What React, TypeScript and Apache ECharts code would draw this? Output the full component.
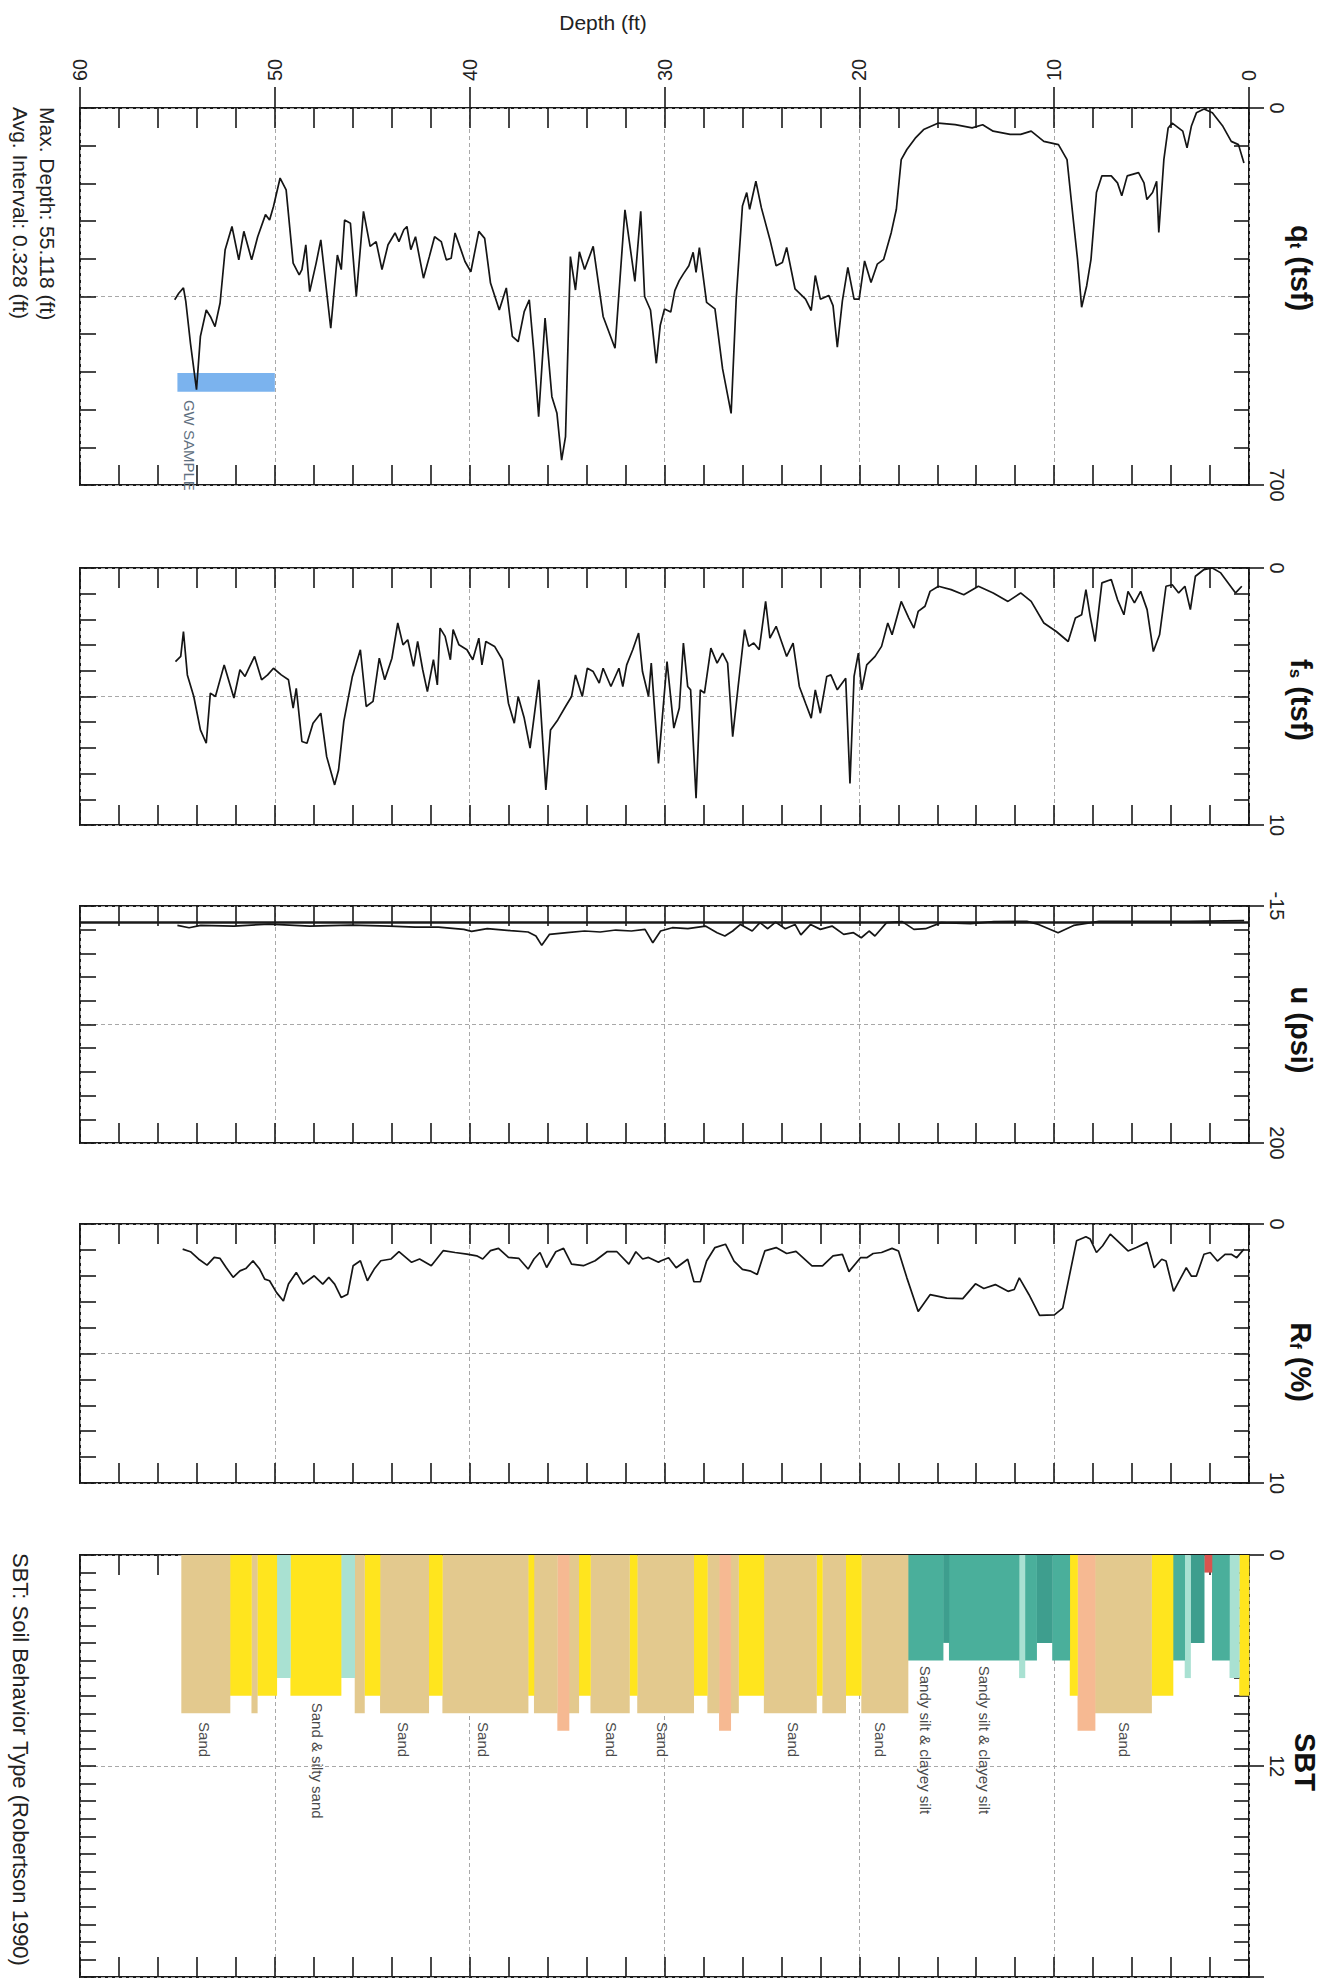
import React, { useEffect, useRef } from "react";
import * as echarts from "echarts";

const FONT = "'Liberation Sans', Arial, Helvetica, sans-serif";

// ---------- data (depth ft, value) ----------
const depthRange = [0, 60];
const depthLabelStep = 10;
const depthMinorStep = 2;

const qtData: [number, number][] = [
  [0.26,102],[0.54,68],[0.91,62],[1.34,34],[1.88,9],[2.31,2],[2.70,9],[2.96,34],[3.18,74],[3.40,43],[3.94,28],[4.15,37],[4.37,96],[4.63,231],[4.74,136],[4.95,157],[5.24,170],[5.39,139],[5.67,120],[6.25,126],[6.53,163],[6.75,139],[7.07,126],[7.55,126],[7.83,157],[8.11,281],[8.33,330],[8.59,370],[8.80,281],[9.02,207],[9.34,96],[9.78,68],[10.53,62],[11.18,43],[11.72,49],[12.26,49],[13.13,43],[13.67,31],[14.21,37],[15.08,31],[15.94,28],[16.70,40],[17.13,56],[17.56,77],[17.85,96],[18.10,188],[18.36,231],[18.75,281],[19.08,290],[19.40,324],[19.73,284],[20.01,355],[20.27,355],[20.59,296],[20.87,358],[21.13,444],[21.35,367],[21.57,348],[22.00,355],[22.26,311],[22.47,376],[22.76,355],[23.30,336],[23.73,259],[23.95,287],[24.27,293],[24.59,244],[25.03,185],[25.31,136],[25.63,188],[25.78,157],[26.00,182],[26.32,355],[26.58,567],[27.02,484],[27.41,373],[27.84,361],[28.21,259],[28.38,305],[28.53,268],[28.75,293],[29.03,308],[29.25,321],[29.47,339],[29.68,379],[30.00,373],[30.22,404],[30.42,474],[30.72,375],[31.02,350],[31.22,192],[31.52,322],[32.03,189],[32.54,446],[33.15,387],[33.66,257],[34.10,300],[34.37,267],[34.57,338],[34.83,276],[35.08,610],[35.28,654],[35.52,567],[35.78,536],[36.13,390],[36.46,573],[36.70,455],[36.94,356],[37.20,378],[37.51,434],[37.81,424],[38.12,334],[38.48,375],[38.93,325],[39.23,242],[39.53,229],[39.94,304],[40.24,285],[40.45,263],[40.75,232],[40.95,279],[41.20,282],[41.46,248],[41.80,239],[42.07,276],[42.37,316],[42.78,239],[43.02,263],[43.22,220],[43.38,226],[43.63,248],[43.83,232],[44.19,254],[44.50,300],[44.80,248],[45.11,257],[45.45,192],[45.82,350],[46.12,214],[46.42,208],[46.59,300],[46.79,273],[47.13,409],[47.64,245],[47.88,288],[48.21,341],[48.41,254],[48.61,300],[48.75,310],[49.06,288],[49.42,152],[49.73,130],[50.07,183],[50.27,208],[50.48,198],[50.88,239],[51.19,282],[51.59,229],[51.85,282],[52.20,220],[52.55,263],[52.81,362],[53.07,406],[53.31,387],[53.52,375],[53.82,424],[54.02,523],[54.33,437],[54.57,359],[54.69,334],[54.93,344],[55.14,356]
];

const fsData: [number, number][] = [
  [0.37,0.71],[0.69,0.97],[1.45,0.19],[1.88,0],[2.31,0.06],[2.75,0.32],[3.01,1.62],[3.29,0.71],[3.61,0.97],[3.94,0.65],[4.26,0.71],[4.59,2.60],[4.91,3.25],[5.23,1.62],[5.56,0.91],[5.88,1.36],[6.21,0.91],[6.42,1.82],[6.75,1.23],[7.07,0.45],[7.55,0.58],[7.90,2.86],[8.15,1.88],[8.37,0.84],[8.59,1.82],[8.91,1.95],[9.28,2.86],[9.89,2.47],[10.53,2.14],[11.18,1.30],[11.72,0.97],[12.37,1.30],[13.13,0.97],[13.89,0.71],[14.64,1.04],[15.29,0.84],[15.94,0.71],[16.37,0.91],[16.63,1.49],[16.98,1.69],[17.20,2.34],[17.46,1.95],[17.85,1.30],[18.32,2.60],[18.54,2.14],[18.86,3.05],[19.19,3.44],[19.62,3.77],[19.88,4.74],[20.05,3.31],[20.27,4.22],[20.48,8.38],[20.70,4.29],[21.13,4.74],[21.46,4.16],[21.67,4.22],[22.00,5.65],[22.26,4.74],[22.47,5.84],[22.76,5.26],[23.08,4.61],[23.40,2.92],[23.73,3.44],[24.27,2.27],[24.59,2.73],[24.81,1.30],[25.14,3.18],[25.42,2.92],[25.68,3.05],[25.89,2.40],[26.22,4.61],[26.50,6.56],[26.76,3.70],[27.02,3.31],[27.30,3.70],[27.62,3.12],[27.95,4.87],[28.16,4.74],[28.38,8.96],[28.66,4.74],[28.81,4.61],[29.03,2.92],[29.24,5.45],[29.52,6.23],[29.87,3.64],[30.31,7.60],[30.68,3.70],[30.82,5.00],[31.13,4.03],[31.33,2.53],[31.63,3.18],[31.94,3.77],[32.14,4.61],[32.34,3.90],[32.75,4.61],[33.15,3.90],[33.35,4.48],[33.66,4.03],[33.96,3.90],[34.22,5.00],[34.57,4.16],[34.77,5.00],[35.08,5.39],[35.48,5.91],[35.85,6.30],[36.09,8.64],[36.45,4.35],[36.90,7.01],[37.20,5.84],[37.51,5.00],[37.71,6.04],[38.01,5.26],[38.32,3.57],[38.72,3.05],[39.17,2.86],[39.37,3.77],[39.53,2.73],[39.84,3.57],[40.14,3.18],[40.55,2.99],[40.85,2.40],[40.99,3.57],[41.26,2.66],[41.52,2.34],[41.66,4.55],[41.86,3.57],[42.17,4.81],[42.41,3.96],[42.67,2.86],[42.88,3.83],[43.18,2.79],[43.42,2.99],[43.69,2.14],[43.99,3.51],[44.36,4.35],[44.64,3.51],[44.96,5.19],[45.31,5.39],[45.61,3.18],[46.02,4.22],[46.46,5.97],[46.73,7.86],[46.93,8.44],[47.34,7.34],[47.64,5.65],[48.04,6.04],[48.35,6.82],[48.61,6.75],[48.90,4.68],[49.06,5.45],[49.30,4.35],[49.67,4.16],[50.07,3.90],[50.37,4.16],[50.68,4.35],[51.04,3.44],[51.33,3.90],[51.53,4.22],[51.79,3.96],[52.10,5.06],[52.60,3.77],[53.05,5.00],[53.31,4.87],[53.52,6.82],[53.82,6.30],[54.16,5.00],[54.49,4.16],[54.69,2.47],[54.83,3.44],[55.10,3.64]
];

const uData: [number, number][] = [
  [0.25,-1.7],[3.1,-1.1],[5.2,-1.1],[7.7,-1.1],[9.0,2.6],[9.8,9.2],[10.8,1.7],[11.4,-1.1],[13.1,-0.8],[14.3,1.1],[15.8,0.1],[16.6,5.6],[17.2,6.2],[17.8,-0.8],[18.6,0.1],[19.2,12.2],[19.5,7.7],[19.9,13.8],[20.3,9.2],[20.8,10.7],[21.4,3.2],[22.0,6.2],[22.5,1.7],[23.0,11.2],[23.3,1.7],[23.8,5.6],[24.3,-0.4],[24.7,5.6],[25.1,0.1],[25.5,7.7],[26.1,1.7],[26.5,7.7],[26.9,12.2],[27.3,9.2],[27.9,3.2],[28.8,5.6],[29.6,4.7],[30.2,7.7],[30.6,18.3],[31.0,6.2],[31.7,7.7],[32.5,6.8],[33.3,8.6],[34.1,7.7],[35.0,9.2],[35.9,10.7],[36.3,20.7],[36.6,12.2],[37.0,8.6],[37.9,7.4],[39.1,5.6],[39.9,8.0],[40.3,6.2],[41.6,4.1],[42.8,4.1],[44.1,3.2],[46.1,2.3],[48.2,3.2],[50.3,1.4],[52.1,3.2],[53.8,2.6],[54.4,4.7],[55.0,2.6]
];

const rfData: [number, number][] = [
  [0.26,0.97],[0.63,1.30],[0.91,1.17],[1.23,1.17],[1.62,1.43],[1.99,1.10],[2.31,1.17],[2.70,2.01],[2.96,2.01],[3.22,1.69],[3.50,2.08],[3.87,2.60],[4.26,1.43],[4.48,1.36],[4.87,1.69],[5.23,0.71],[5.78,0.91],[6.21,1.04],[6.75,0.65],[7.12,0.39],[7.51,0.84],[7.83,1.10],[8.15,0.58],[8.37,0.49],[8.85,0.65],[9.24,2.08],[9.56,3.25],[9.99,3.51],[10.75,3.53],[11.29,2.73],[11.79,2.08],[12.05,2.53],[12.37,2.60],[13.02,2.34],[13.61,2.49],[14.04,2.31],[14.69,2.88],[15.51,2.86],[16.37,2.73],[16.98,3.38],[17.56,2.08],[17.99,1.04],[18.32,0.94],[18.86,1.10],[19.29,1.14],[19.62,1.30],[19.94,1.30],[20.53,1.84],[20.87,1.17],[21.35,1.23],[21.89,1.62],[22.43,1.62],[23.25,1.06],[23.73,1.14],[24.27,0.91],[24.85,1.04],[25.24,1.95],[25.57,1.82],[26.00,1.75],[26.43,1.43],[26.87,0.78],[27.41,0.91],[27.84,1.43],[28.16,2.23],[28.49,2.23],[28.81,1.36],[29.40,1.69],[29.79,1.30],[30.20,1.43],[30.31,1.48],[30.82,1.29],[31.12,1.35],[31.47,1.07],[31.83,1.55],[32.44,1.07],[32.95,1.07],[33.56,1.42],[34.16,1.61],[34.77,1.55],[35.18,0.94],[35.58,1.07],[36.05,1.68],[36.39,1.10],[36.70,1.35],[37.00,1.74],[37.47,1.33],[38.01,1.29],[38.52,0.94],[38.93,1.03],[39.33,1.35],[39.64,1.23],[40.14,1.16],[40.75,1.10],[41.36,1.03],[41.97,1.61],[42.57,1.35],[42.98,1.48],[43.63,1.07],[44.03,1.35],[44.56,1.42],[44.90,1.74],[45.25,2.19],[45.61,1.42],[45.98,1.61],[46.26,2.71],[46.59,2.84],[46.93,2.32],[47.23,2.06],[47.54,2.32],[47.98,2.00],[48.55,2.32],[48.90,1.87],[49.30,2.32],[49.56,2.97],[49.91,2.65],[50.27,2.19],[50.52,2.13],[50.78,1.74],[51.12,1.42],[51.49,1.72],[51.79,1.81],[52.14,2.06],[52.50,1.68],[52.81,1.33],[53.11,1.29],[53.48,1.59],[53.92,1.35],[54.33,1.07],[54.73,0.97]
];

// SBT zones: [fromDepth, toDepth, zone]
const sbtSegments: [number, number, number][] = [
  [0.0,0.5,8],[0.5,1.0,7],[1.0,1.9,6],[1.9,2.3,1],[2.3,3.0,5],[3.0,3.3,7],[3.3,3.9,6],[3.9,5.0,8],[5.0,7.9,9],[7.9,8.8,10],[8.8,9.2,8],[9.2,10.1,6],[10.1,10.9,5],[10.9,11.5,6],[11.5,11.8,7],[11.8,15.4,6],[15.4,15.7,5],[15.7,17.5,6],[17.5,19.9,9],[19.9,20.7,8],[20.7,21.9,9],[21.9,22.2,8],[22.2,24.9,9],[24.9,26.2,8],[26.2,26.6,9],[26.6,27.2,10],[27.2,27.8,9],[27.8,28.5,8],[28.5,31.4,9],[31.4,31.8,8],[31.8,33.8,9],[33.8,34.4,8],[34.4,34.9,9],[34.9,35.5,10],[35.5,36.7,9],[36.7,37.0,8],[37.0,41.4,9],[41.4,42.1,8],[42.1,44.6,9],[44.6,45.4,8],[45.4,45.9,9],[45.9,46.6,7],[46.6,49.2,8],[49.2,49.9,7],[49.9,50.9,8],[50.9,51.2,9],[51.2,52.3,8],[52.3,54.8,9]
];
const zoneColors: Record<number, string> = {
  1: "#D9534F", 5: "#3E9E8E", 6: "#4AAF9B", 7: "#A9E1D2", 8: "#FFE51E", 9: "#E3C98E", 10: "#F6B992",
};
const sbtLabelDepths = [53.6, 47.8, 43.4, 39.3, 32.7, 30.1, 23.4, 18.9, 16.6, 13.6, 6.4];
const sbtLabelTexts = ["Sand", "Sand & silty sand", "Sand", "Sand", "Sand", "Sand", "Sand", "Sand", "Sandy silt & clayey silt", "Sandy silt & clayey silt", "Sand"];
const sbtLabelStart = [9.5, 8.4, 9.5, 9.5, 9.5, 9.5, 9.5, 9.5, 6.3, 6.3, 9.5];

const gwSample = { from: 55.0, to: 50.0, low: 492, high: 527, label: "GW SAMPLE", labelDepth: 54.4, labelAt: 542 };

// panel axis ranges & ticks
const panelNames = ["qt", "fs", "u", "rf", "sbt"];
const panelMin = [0, 0, -15, 0, 0];
const panelMax = [700, 10, 200, 10, 24];
const panelTickStep = [70, 1, 21.5, 1, 1];
const panelLabelStep = [700, 10, 215, 10, 12];
const panelHiddenLabels = [[], [], [], [], ["24"]];

// layout (px)
const GRID_LEFT = 80;
const GRID_WIDTH = 1169;
const panelTop = [108, 568, 906, 1224, 1555];
const panelHeight = [377, 257, 237, 259, 422];
const titleY = [268, 700, 1030, 1362, 1762];

const App: React.FC = () => {
  const ref = useRef<HTMLDivElement>(null);
  useEffect(() => {
    if (!ref.current) return;
    const chart = echarts.init(ref.current, undefined, { renderer: "svg" });

    const grids: any[] = [];
    const xAxes: any[] = [];
    const yAxes: any[] = [];
    const tickStyle = { color: "#1a1a1a", width: 1.6 };
    const dashed = { color: "#a8a8a8", width: 1, type: [4, 3] };
    const axisText = { fontSize: 20, color: "#222", fontFamily: FONT };

    panelNames.forEach((_, i) => {
      grids.push({
        left: GRID_LEFT, top: panelTop[i], width: GRID_WIDTH, height: panelHeight[i],
        show: true, borderColor: "#1a1a1a", borderWidth: 2, backgroundColor: "transparent",
      });
      const xb = {
        type: "value", gridIndex: i, min: depthRange[0], max: depthRange[1], inverse: true,
        axisLine: { show: false, onZero: false }, axisLabel: { show: false }, splitLine: { show: false },
      };
      xAxes.push({ ...xb, position: "bottom", interval: depthMinorStep, axisTick: { show: true, inside: true, length: 20, lineStyle: tickStyle } });
      xAxes.push({ ...xb, position: "top", interval: depthMinorStep, axisTick: { show: true, inside: true, length: 20, lineStyle: tickStyle } });
      xAxes.push({
        ...xb, position: "top", interval: depthLabelStep,
        axisTick: i === 0 ? { show: true, inside: false, length: 21, lineStyle: tickStyle } : { show: false },
        axisLabel: i === 0 ? { show: true, rotate: -90, margin: 27, ...axisText } : { show: false },
        splitLine: { show: true, lineStyle: dashed },
      });

      const range = panelMax[i] - panelMin[i];
      const yb = {
        type: "value", gridIndex: i, min: 0, max: range, inverse: true,
        axisLine: { show: false, onZero: false }, splitLine: { show: false },
      };
      yAxes.push({ type: "value", gridIndex: i, min: panelMin[i], max: panelMax[i], inverse: true, show: false });
      yAxes.push({ ...yb, position: "left", interval: panelTickStep[i], axisTick: { show: true, inside: true, length: 16, lineStyle: tickStyle }, axisLabel: { show: false } });
      yAxes.push({ ...yb, position: "right", interval: panelTickStep[i], axisTick: { show: true, inside: true, length: 15, lineStyle: tickStyle }, axisLabel: { show: false } });
      yAxes.push({
        ...yb, position: "right", interval: panelLabelStep[i],
        axisTick: { show: true, inside: false, length: 15, lineStyle: tickStyle },
        axisLabel: {
          show: true, rotate: -90, margin: 18, ...axisText,
          formatter: (v: number) => {
            const s = String(Math.round((v + panelMin[i]) * 100) / 100);
            return (panelHiddenLabels[i] as string[]).includes(s) ? "" : s;
          },
        },
      });
      yAxes.push({ ...yb, position: "left", interval: range / 2, axisTick: { show: false }, axisLabel: { show: false }, splitLine: { show: true, lineStyle: dashed } });
    });

    const lineSeries = (data: [number, number][], i: number, extra: any = {}) => ({
      type: "line", data, xAxisIndex: 3 * i, yAxisIndex: 5 * i, showSymbol: false, symbol: "none",
      lineStyle: { color: "#151515", width: 1.7 }, clip: true, z: 5, silent: true, ...extra,
    });

    const series: any[] = [
      {
        type: "custom", xAxisIndex: 0, yAxisIndex: 0, z: 3, silent: true,
        data: [[gwSample.from, gwSample.low, gwSample.to, gwSample.high]],
        renderItem: (_p: any, api: any) => {
          const a = api.coord([api.value(0), api.value(1)]);
          const b = api.coord([api.value(2), api.value(3)]);
          return { type: "rect", shape: { x: Math.min(a[0], b[0]), y: Math.min(a[1], b[1]), width: Math.abs(b[0] - a[0]), height: Math.abs(b[1] - a[1]) }, style: { fill: "#7BB3EE" } };
        },
      },
      {
        type: "custom", xAxisIndex: 0, yAxisIndex: 0, z: 6, silent: true, clip: false,
        data: [[gwSample.labelDepth, gwSample.labelAt]],
        renderItem: (_p: any, api: any) => {
          const a = api.coord([api.value(0), api.value(1)]);
          return { type: "text", x: a[0], y: a[1], rotation: -Math.PI / 2, style: { text: gwSample.label, fontSize: 15, fontFamily: FONT, fill: "#5f7080", align: "left", verticalAlign: "middle" } };
        },
      },
      lineSeries(qtData, 0),
      lineSeries(fsData, 1),
      lineSeries(uData, 2, {
        markLine: { symbol: "none", silent: true, label: { show: false }, lineStyle: { color: "#1a1a1a", width: 2.5, type: "solid" }, data: [{ yAxis: 0 }] },
      }),
      lineSeries(rfData, 3),
      {
        type: "custom", xAxisIndex: 12, yAxisIndex: 20, z: 3, silent: true,
        data: sbtSegments,
        renderItem: (_p: any, api: any) => {
          const a = api.coord([api.value(0), 0]);
          const b = api.coord([api.value(1), api.value(2)]);
          return { type: "rect", shape: { x: Math.min(a[0], b[0]), y: Math.min(a[1], b[1]), width: Math.abs(b[0] - a[0]) + 0.3, height: Math.abs(b[1] - a[1]) }, style: { fill: zoneColors[api.value(2)] || "#ccc" } };
        },
      },
      {
        type: "custom", xAxisIndex: 12, yAxisIndex: 20, z: 6, silent: true, clip: false,
        data: sbtLabelDepths.map((d, k) => [d, sbtLabelStart[k]]),
        renderItem: (p: any, api: any) => {
          const a = api.coord([api.value(0), api.value(1)]);
          return { type: "text", x: a[0], y: a[1], rotation: -Math.PI / 2, style: { text: sbtLabelTexts[p.dataIndex], fontSize: 15, fontFamily: FONT, fill: "#4a4a4a", align: "left", verticalAlign: "middle" } };
        },
      },
    ];

    const titleX = 1301;
    const titleRich = {
      m: { fontSize: 29, fontWeight: "bold", fontFamily: FONT, fill: "#111" },
      s: { fontSize: 17, fontWeight: "bold", fontFamily: FONT, fill: "#111", verticalAlign: "bottom" },
    };
    const titles = ["{m|q}{s|t}{m| (tsf)}", "{m|f}{s|s}{m| (tsf)}", "{m|u (psi)}", "{m|R}{s|f}{m| (%)}", "{m|SBT}"];
    const graphic: any[] = titles.map((t, i) => ({
      type: "text", x: i === 4 ? 1305 : titleX, y: titleY[i], rotation: -Math.PI / 2,
      style: { text: t, rich: titleRich, align: "center", verticalAlign: "middle" },
    }));
    graphic.push({ type: "text", x: 603, y: 22, style: { text: "Depth (ft)", fontSize: 21, fontFamily: FONT, fill: "#222", align: "center", verticalAlign: "middle" } });
    graphic.push({ type: "text", x: 47, y: 107, rotation: -Math.PI / 2, style: { text: "Max. Depth: 55.118 (ft)", fontSize: 21, fontFamily: FONT, fill: "#222", align: "left", verticalAlign: "middle" } });
    graphic.push({ type: "text", x: 20, y: 107, rotation: -Math.PI / 2, style: { text: "Avg. Interval: 0.328 (ft)", fontSize: 21, fontFamily: FONT, fill: "#222", align: "left", verticalAlign: "middle" } });
    graphic.push({ type: "text", x: 20, y: 1553, rotation: -Math.PI / 2, style: { text: "SBT: Soil Behavior Type (Robertson 1990)", fontSize: 22, fontFamily: FONT, fill: "#222", align: "left", verticalAlign: "middle" } });

    chart.setOption({
      animation: false,
      backgroundColor: "#ffffff",
      grid: grids,
      xAxis: xAxes,
      yAxis: yAxes,
      series,
      graphic,
    });
    return () => chart.dispose();
  }, []);
  return <div ref={ref} style={{ position: "absolute", left: 0, top: 0, width: 1323, height: 1980 }} />;
};

export default App;
